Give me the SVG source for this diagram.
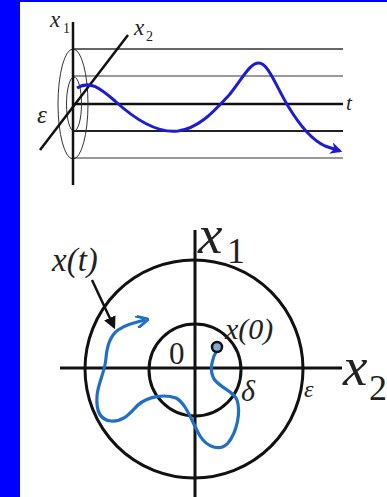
<svg xmlns="http://www.w3.org/2000/svg" width="387" height="497" viewBox="0 0 387 497">
<defs>
<style>
text{font-family:'Liberation Serif','DejaVu Serif',serif;fill:#222}
.lbl{font-style:italic}
.ax{stroke:#111;fill:none}
.thin{stroke:#333;fill:none;stroke-width:1}
</style>
<marker id="ahTop" viewBox="0 0 10 10" refX="8" refY="5" markerWidth="4" markerHeight="4" orient="auto" markerUnits="strokeWidth">
<path d="M0,0 L10,5 L0,10 L3,5 Z" fill="#1c1cd4"/>
</marker>
<marker id="ahBlue" viewBox="0 0 10 10" refX="7" refY="5" markerWidth="4" markerHeight="4" orient="auto" markerUnits="strokeWidth">
<path d="M0,0 L10,5 L0,10" fill="none" stroke="#1f6fc5" stroke-width="2.2"/>
</marker>
<marker id="ahBlack" viewBox="0 0 10 10" refX="8" refY="5" markerWidth="5" markerHeight="5" orient="auto" markerUnits="strokeWidth">
<path d="M0,0 L10,5 L0,10 Z" fill="#111"/>
</marker>
</defs>
<rect x="0" y="0" width="387" height="497" fill="#0000ff"/>
<rect x="20" y="2" width="367" height="495" fill="#ffffff"/>

<g id="top-diagram" font-family="Liberation Serif, DejaVu Serif, serif">
<g id="top-lines">
<line x1="73" y1="49" x2="343" y2="49" stroke="#333" stroke-width="1.6"/>
<line x1="73" y1="76" x2="343" y2="76" stroke="#777" stroke-width="1.3"/>
<line x1="73" y1="104" x2="343" y2="104" stroke="#111" stroke-width="2.5"/>
<line x1="73" y1="131" x2="343" y2="131" stroke="#222" stroke-width="1.8"/>
<line x1="73" y1="158" x2="343" y2="158" stroke="#777" stroke-width="1.3"/>
</g>
<ellipse cx="73" cy="104" rx="15" ry="55" class="thin"/>
<ellipse cx="74" cy="104" rx="7.5" ry="27" class="thin"/>
<line x1="73" y1="22" x2="73" y2="185" class="ax" stroke-width="2.5"/>
<line x1="40" y1="150" x2="128" y2="35" class="ax" stroke-width="2.5"/>
<path d="M77,88 C90,80 100,88 115,101 C140,124 160,133 178,131 C200,128 215,110 230,94 C244,76 250,63 259,63 C268,63 276,86 288,106 C300,126 312,140 325,146 L340,151" fill="none" stroke="#1c1cd4" stroke-width="3" marker-end="url(#ahTop)"/>
<text class="lbl" x="50" y="27" font-size="23">x</text>
<text x="63" y="33" font-size="14">1</text>
<text class="lbl" x="134" y="35" font-size="23">x</text>
<text x="146" y="41" font-size="14">2</text>
<text class="lbl" x="37" y="123" font-size="25">ε</text>
<text class="lbl" x="346" y="110" font-size="21">t</text>
</g>

<g id="bottom-diagram" font-family="Liberation Serif, DejaVu Serif, serif">
<circle cx="194" cy="369" r="109" class="ax" stroke-width="3"/>
<circle cx="195" cy="370" r="46" class="ax" stroke-width="3"/>
<line x1="195" y1="230" x2="195" y2="497" class="ax" stroke-width="3"/>
<line x1="60" y1="368" x2="342" y2="368" class="ax" stroke-width="3"/>
<g id="connectors">
<line x1="92" y1="280" x2="114" y2="327" stroke="#111" stroke-width="2.5" marker-end="url(#ahBlack)"/>
</g>
<path d="M217,350 C212,358 209,370 214,379 C220,388 234,391 237,400 C241,412 237,432 228,443 C220,452 207,447 200,436 C192,422 186,403 176,398 C165,394 148,396 138,405 C130,413 124,422 111,421 C100,420 96,410 97,396 C98,383 105,372 106,358 C107,345 110,336 118,330 C125,325 133,323 145,320" fill="none" stroke="#1f6fc5" stroke-width="3.2" marker-end="url(#ahBlue)"/>
<circle cx="217" cy="347" r="5" fill="#8aa6d6" stroke="#111" stroke-width="2.5"/>
<text class="lbl" x="198" y="253" font-size="55">x</text>
<text x="227" y="263" font-size="36">1</text>
<text class="lbl" x="343" y="385" font-size="55">x</text>
<text x="369" y="400" font-size="36">2</text>
<text class="lbl" x="52" y="271" font-size="33">x(t)</text>
<text class="lbl" x="225" y="339" font-size="30">x(0)</text>
<text x="169" y="364" font-size="31">0</text>
<text class="lbl" x="241" y="401" font-size="30">δ</text>
<text class="lbl" x="304" y="397" font-size="24">ε</text>
</g>
</svg>
